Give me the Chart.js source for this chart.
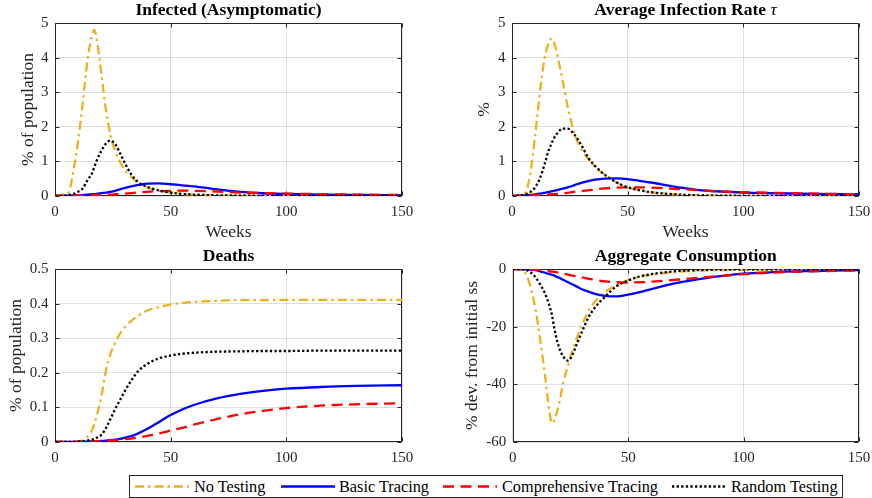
<!DOCTYPE html>
<html><head><meta charset="utf-8">
<script src="https://cdn.jsdelivr.net/npm/chart.js@4.4.1/dist/chart.umd.min.js"></script>
<style>
html,body{margin:0;padding:0;background:#fff;overflow:hidden;width:872px;height:498px;}
#wrap{position:relative;width:872px;height:498px;overflow:hidden;}
canvas{position:absolute;}
#legend{position:absolute;left:129px;top:475px;width:712px;height:21px;border:1px solid #262626;background:#fff;font-family:'Liberation Serif';font-size:16.3px;color:#000;}
#legend span{position:absolute;top:0;line-height:21px;white-space:nowrap;}
#legend svg{position:absolute;top:0;}
</style></head><body>
<div id="wrap">
<canvas id="c1" width="422" height="245" style="left:0;top:0;"></canvas>
<canvas id="c2" width="449" height="245" style="left:430px;top:0;"></canvas>
<canvas id="c3" width="422" height="258" style="left:0;top:240px;"></canvas>
<canvas id="c4" width="449" height="258" style="left:430px;top:240px;"></canvas>
<div id="legend"></div>
</div>
<script>
// ---- data ----
const weeks = [0,4,6,8,10,12,14,16,17,18,20,22,24,26,28,30,33,36,40,45,50,55,60,70,80,90,100,115,130,150];
const seriesNames = ['No Testing','Basic Tracing','Comprehensive Tracing','Random Testing'];

const infNoTest = [0,0.05,0.12,0.75,1.6,2.7,3.9,4.65,4.8,4.55,3.55,2.5,1.75,1.3,1.0,0.78,0.55,0.37,0.24,0.15,0.1,0.06,0.04,0.02,0.01,0.005,0,0,0,0];
const infBasic  = [0,0.005,0.01,0.015,0.02,0.03,0.04,0.05,0.055,0.06,0.08,0.1,0.12,0.15,0.19,0.23,0.28,0.32,0.36,0.365,0.34,0.31,0.28,0.19,0.12,0.08,0.06,0.04,0.03,0.02];
const infComp   = [0,0.003,0.005,0.007,0.01,0.012,0.015,0.02,0.022,0.025,0.03,0.035,0.04,0.05,0.06,0.07,0.085,0.1,0.12,0.14,0.15,0.155,0.15,0.13,0.1,0.085,0.07,0.055,0.04,0.03];
const infRandom = [0,0.01,0.03,0.06,0.12,0.22,0.45,0.66,0.84,1.02,1.3,1.52,1.6,1.5,1.25,0.98,0.62,0.4,0.26,0.16,0.1,0.06,0.04,0.02,0.01,0.005,0,0,0,0];

const tauNoTest = [0,0.04,0.12,0.7,1.75,2.95,3.95,4.45,4.55,4.48,3.95,3.3,2.6,2.05,1.62,1.35,1.07,0.84,0.62,0.4,0.25,0.17,0.11,0.05,0.02,0.01,0.005,0,0,0];
const tauBasic  = [0,0.01,0.02,0.03,0.05,0.07,0.09,0.12,0.135,0.15,0.18,0.21,0.25,0.29,0.34,0.38,0.43,0.47,0.5,0.51,0.49,0.44,0.39,0.27,0.18,0.13,0.1,0.08,0.06,0.05];
const tauComp   = [0,0.005,0.01,0.015,0.02,0.03,0.035,0.045,0.05,0.055,0.065,0.08,0.09,0.11,0.13,0.14,0.16,0.19,0.22,0.24,0.25,0.25,0.24,0.21,0.17,0.13,0.11,0.09,0.07,0.05];
const tauRandom = [0,0.02,0.05,0.12,0.25,0.5,0.9,1.35,1.5,1.65,1.85,1.95,1.95,1.85,1.68,1.47,1.1,0.86,0.62,0.4,0.25,0.17,0.11,0.05,0.02,0.01,0.005,0,0,0];

const deathNoTest = [0,0,0,0.001,0.002,0.005,0.015,0.035,0.052,0.075,0.13,0.205,0.255,0.287,0.312,0.33,0.35,0.365,0.38,0.39,0.397,0.402,0.405,0.408,0.41,0.41,0.411,0.411,0.411,0.411];
const deathBasic  = [0,0,0,0,0.001,0.001,0.001,0.002,0.002,0.002,0.003,0.004,0.005,0.007,0.009,0.012,0.017,0.025,0.038,0.058,0.078,0.094,0.107,0.126,0.139,0.148,0.154,0.159,0.162,0.164];
const deathComp   = [0,0,0,0,0,0.001,0.001,0.001,0.001,0.002,0.002,0.003,0.004,0.005,0.006,0.008,0.01,0.013,0.018,0.025,0.033,0.041,0.05,0.066,0.08,0.09,0.098,0.105,0.109,0.112];
const deathRandom = [0,0,0,0,0.001,0.002,0.004,0.007,0.009,0.012,0.02,0.04,0.067,0.095,0.12,0.145,0.178,0.205,0.226,0.242,0.25,0.255,0.258,0.261,0.262,0.263,0.263,0.264,0.264,0.264];

const consNoTest = [0,-0.3,-2.2,-7,-14.5,-25,-37,-50,-53.5,-52.5,-47,-39,-33.5,-28,-23.5,-19.5,-14.3,-11,-8,-5.6,-3.9,-2.7,-2,-1.1,-0.6,-0.4,-0.3,-0.15,-0.1,-0.05];
const consBasic  = [0,-0.05,-0.1,-0.2,-0.4,-0.8,-1.3,-1.8,-2.0,-2.3,-3.0,-3.8,-4.6,-5.4,-6.2,-7.0,-7.9,-8.7,-9.3,-9.5,-8.9,-8.0,-7.0,-5.0,-3.6,-2.5,-1.6,-1.0,-0.7,-0.4];
const consComp   = [0,-0.02,-0.05,-0.1,-0.2,-0.3,-0.5,-0.8,-0.9,-1.0,-1.3,-1.6,-2.0,-2.3,-2.6,-2.9,-3.4,-3.8,-4.3,-4.6,-4.7,-4.6,-4.4,-3.8,-3.1,-2.4,-1.8,-1.2,-0.8,-0.5];
const consRandom = [0,-0.1,-0.4,-1.3,-3,-5.5,-8.5,-13,-16,-20.5,-27,-30.5,-31.8,-29.5,-25.5,-21.8,-16.5,-13,-9.6,-6,-4,-2.6,-1.8,-0.8,-0.4,-0.2,-0.15,-0.1,-0.05,0];

const xTicks = [0,50,100,150];
const infTicks = [0,1,2,3,4,5];
const deathTicks = [0,0.1,0.2,0.3,0.4,0.5];
const consTicks = [-60,-40,-20,0];

// ---- styling ----
const F = 'Liberation Serif';
const TC = '#262626';
const GRID = 'rgba(38,38,38,0.15)';
const S = [
  {color:'#EDB120', dash:[9,4,2.5,4]},
  {color:'#0000FF', dash:[]},
  {color:'#FF0000', dash:[11,6.5]},
  {color:'#000000', dash:[2.3,2.3]}
];
const titles = {
  c1:[{text:'Infected (Asymptomatic)', font:'bold 17.5px "Liberation Serif"'}],
  c2:[{text:'Average Infection Rate ', font:'bold 17.5px "Liberation Serif"'},{text:'τ', font:'italic 17.5px "Liberation Serif"'}],
  c3:[{text:'Deaths', font:'bold 17.5px "Liberation Serif"'}],
  c4:[{text:'Aggregate Consumption', font:'bold 17.5px "Liberation Serif"'}]
};

const frame = {
  id:'frame',
  beforeDatasetsDraw(chart){
    const {ctx, chartArea:a, scales:{x,y}} = chart;
    ctx.save();
    ctx.strokeStyle = TC; ctx.lineWidth = 1;
    const L = Math.round(a.left)+0.5, R = Math.round(a.right)-0.5, T = Math.round(a.top)+0.5, B = Math.round(a.bottom)-0.5;
    const tl = 4;
    ctx.beginPath();
    ctx.rect(L, T, R-L, B-T);
    x.ticks.forEach(t=>{ const p = Math.round(x.getPixelForValue(t.value))+0.5; ctx.moveTo(p,B); ctx.lineTo(p,B-tl); ctx.moveTo(p,T); ctx.lineTo(p,T+tl); });
    y.ticks.forEach(t=>{ const p = Math.round(y.getPixelForValue(t.value))+0.5; ctx.moveTo(L,p); ctx.lineTo(L+tl,p); ctx.moveTo(R,p); ctx.lineTo(R-tl,p); });
    ctx.stroke();
    ctx.restore();
  },
  afterDraw(chart){
    const segs = titles[chart.canvas.id]; if(!segs) return;
    const {ctx, chartArea:a} = chart;
    ctx.save(); ctx.fillStyle = '#000'; ctx.textBaseline = 'middle'; ctx.textAlign = 'left';
    let total = 0; const w = [];
    segs.forEach((s,i)=>{ ctx.font = s.font; w[i] = ctx.measureText(s.text).width; total += w[i]; });
    let xx = (a.left + a.right)/2 - total/2; const yy = a.top - 13;
    segs.forEach((s,i)=>{ ctx.font = s.font; ctx.fillText(s.text, xx, yy); xx += w[i]; });
    ctx.restore();
  }
};

function build(id, o){
  const orders = [4,3,2,1];
  const datasets = o.d.map((vals,k)=>({
    label: seriesNames[k],
    data: weeks.map((wk,i)=>({x:wk, y:vals[i]})),
    borderColor: S[k].color, borderDash: S[k].dash, borderWidth: 2.3,
    borderCapStyle:'butt', pointRadius:0, fill:false,
    cubicInterpolationMode:'monotone', order: orders[k]
  }));
  new Chart(document.getElementById(id), {
    type:'line',
    data:{datasets},
    options:{
      responsive:false, animation:false, events:[],
      layout:{padding:{left:0, right:20, top:o.padTop, bottom:0}},
      plugins:{legend:{display:false}, tooltip:{enabled:false}},
      scales:{
        x:{type:'linear', min:0, max:150,
          afterBuildTicks:s=>{ s.ticks = xTicks.map(v=>({value:v})); },
          afterFit:s=>{ s.height = o.xH; },
          grid:{color:GRID, drawTicks:false, lineWidth:1}, border:{display:false},
          ticks:{font:{family:F,size:15}, color:TC, padding:6.7, maxRotation:0, autoSkip:false, callback:v=>String(v)},
          title:{display:!!o.xTitle, text:o.xTitle||'', font:{family:F,size:17.5}, color:TC, padding:{top:0,bottom:2}}
        },
        y:{type:'linear', min:o.yTicks[0], max:o.yTicks[o.yTicks.length-1],
          afterBuildTicks:s=>{ s.ticks = o.yTicks.map(v=>({value:v})); },
          afterFit:s=>{ s.width = o.yW; },
          grid:{color:GRID, drawTicks:false, lineWidth:1}, border:{display:false},
          ticks:{font:{family:F,size:15}, color:TC, padding:6.5, autoSkip:false, callback:v=>String(v)},
          title:{display:true, text:o.yTitle, font:{family:F,size:17.5}, color:TC, padding:{top:o.yTP,bottom:0}}
        }
      }
    },
    plugins:[frame]
  });
}

build('c1', {d:[infNoTest,infBasic,infComp,infRandom], yTicks:infTicks, yTitle:'% of population', yW:55, yTP:17.5, padTop:23, xH:49, xTitle:'Weeks'});
build('c2', {d:[tauNoTest,tauBasic,tauComp,tauRandom], yTicks:infTicks, yTitle:'%', yW:82, yTP:43.5, padTop:23, xH:49, xTitle:'Weeks'});
build('c3', {d:[deathNoTest,deathBasic,deathComp,deathRandom], yTicks:deathTicks, yTitle:'% of population', yW:55, yTP:5.5, padTop:29, xH:56});
build('c4', {d:[consNoTest,consBasic,consComp,consRandom], yTicks:consTicks, yTitle:'% dev. from initial ss', yW:82.7, yTP:31.5, padTop:29, xH:56});

// ---- legend ----
const legendPos = [{s:5,t:64},{s:151,t:209},{s:313,t:372},{s:542,t:601}];
const lg = document.getElementById('legend');
seriesNames.forEach((n,k)=>{
  const p = legendPos[k];
  const dash = S[k].dash.length ? S[k].dash.join(',') : 'none';
  lg.insertAdjacentHTML('beforeend',
    `<svg width="54" height="21" style="left:${p.s}px"><line x1="0" y1="10.5" x2="54" y2="10.5" stroke="${S[k].color}" stroke-width="2.3" stroke-dasharray="${dash}"/></svg><span style="left:${p.t}px">${n}</span>`);
});
</script>
</body></html>
